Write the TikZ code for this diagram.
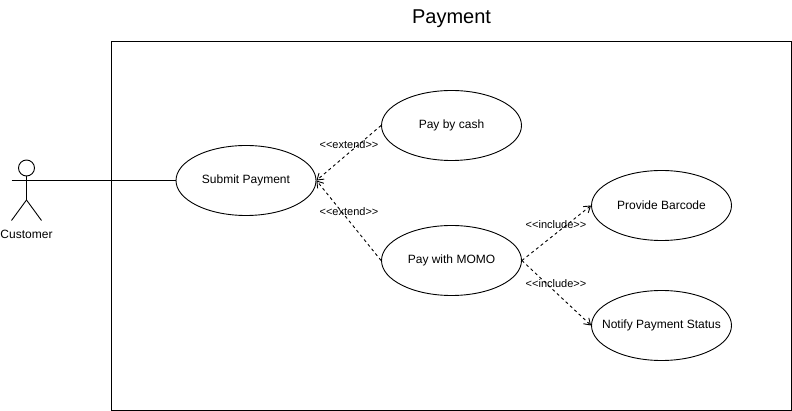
\documentclass[tikz,border=0pt]{standalone}
\usepackage{fontspec}
\setmainfont{Liberation Sans}
\usetikzlibrary{shapes.geometric, arrows.meta}
\newcommand{\uclabel}[1]{\makebox[0pt]{\raisebox{-1pt}{#1}}}
\tikzset{
  usecase/.style = {draw, ellipse, minimum width = 140pt, minimum height = 70pt, inner sep = 0pt, font = \fontsize{12}{14}\selectfont},
  stereo/.style = {font = \fontsize{11}{13}\selectfont, inner sep = 0pt},
  depend/.style = {dash pattern = on 3pt off 3pt, -{Straight Barb[length = 6pt, width = 8pt, line width = 0.9pt]}}
}
\begin{document}
\begin{tikzpicture}[x = 1pt, y = -1pt, line width = 0.9pt]
          \useasboundingbox (0, 0) rectangle (792, 411);
          \node (title) at (451.5, 18.5) {\fontsize{20}{24}\selectfont Payment};
          \draw (111, 41) rectangle (791, 410);
          % actor
          \node (head) [draw, circle, minimum size = 16pt, inner sep = 0pt] at (26.5, 168) {};
          \coordinate (hip) at (26.5, 200);
          \coordinate (armleft) at (11.5, 180.5);
          \coordinate (armright) at (41.5, 180.5);
          \draw (head) -- (hip);
          \draw (armleft) -- (armright);
          \draw (hip) -- (11.5, 220.5);
          \draw (hip) -- (41.5, 220.5);
          \node (customer) at (26.5, 234) {\fontsize{12}{14}\selectfont Customer};
          % use cases
          \node (submit) [usecase] at (246, 180.5) {\uclabel{Submit Payment}};
          \node (cash) [usecase] at (451.5, 125.5) {\uclabel{Pay by cash}};
          \node (momo) [usecase] at (451.5, 260.5) {\uclabel{Pay with MOMO}};
          \node (barcode) [usecase] at (661.5, 205.5) {\uclabel{Provide Barcode}};
          \node (notify) [usecase] at (661.5, 325.5) {\uclabel{Notify Payment Status}};
          \draw (armright) -- (submit.west);
          \draw [depend] (cash.west) -- (submit.east);
          \draw [depend] (momo.west) -- (submit.east);
          \draw [depend] (momo.east) -- (barcode.west);
          \draw [depend] (momo.east) -- (notify.west);
          \node (extendcash) [stereo] at (349, 145) {<{}<extend>{}>};
          \node (extendmomo) [stereo] at (349, 212) {<{}<extend>{}>};
          \node (includebar) [stereo] at (556, 225) {<{}<include>{}>};
          \node (includenot) [stereo] at (556, 284) {<{}<include>{}>};
        \end{tikzpicture}
\end{document}
